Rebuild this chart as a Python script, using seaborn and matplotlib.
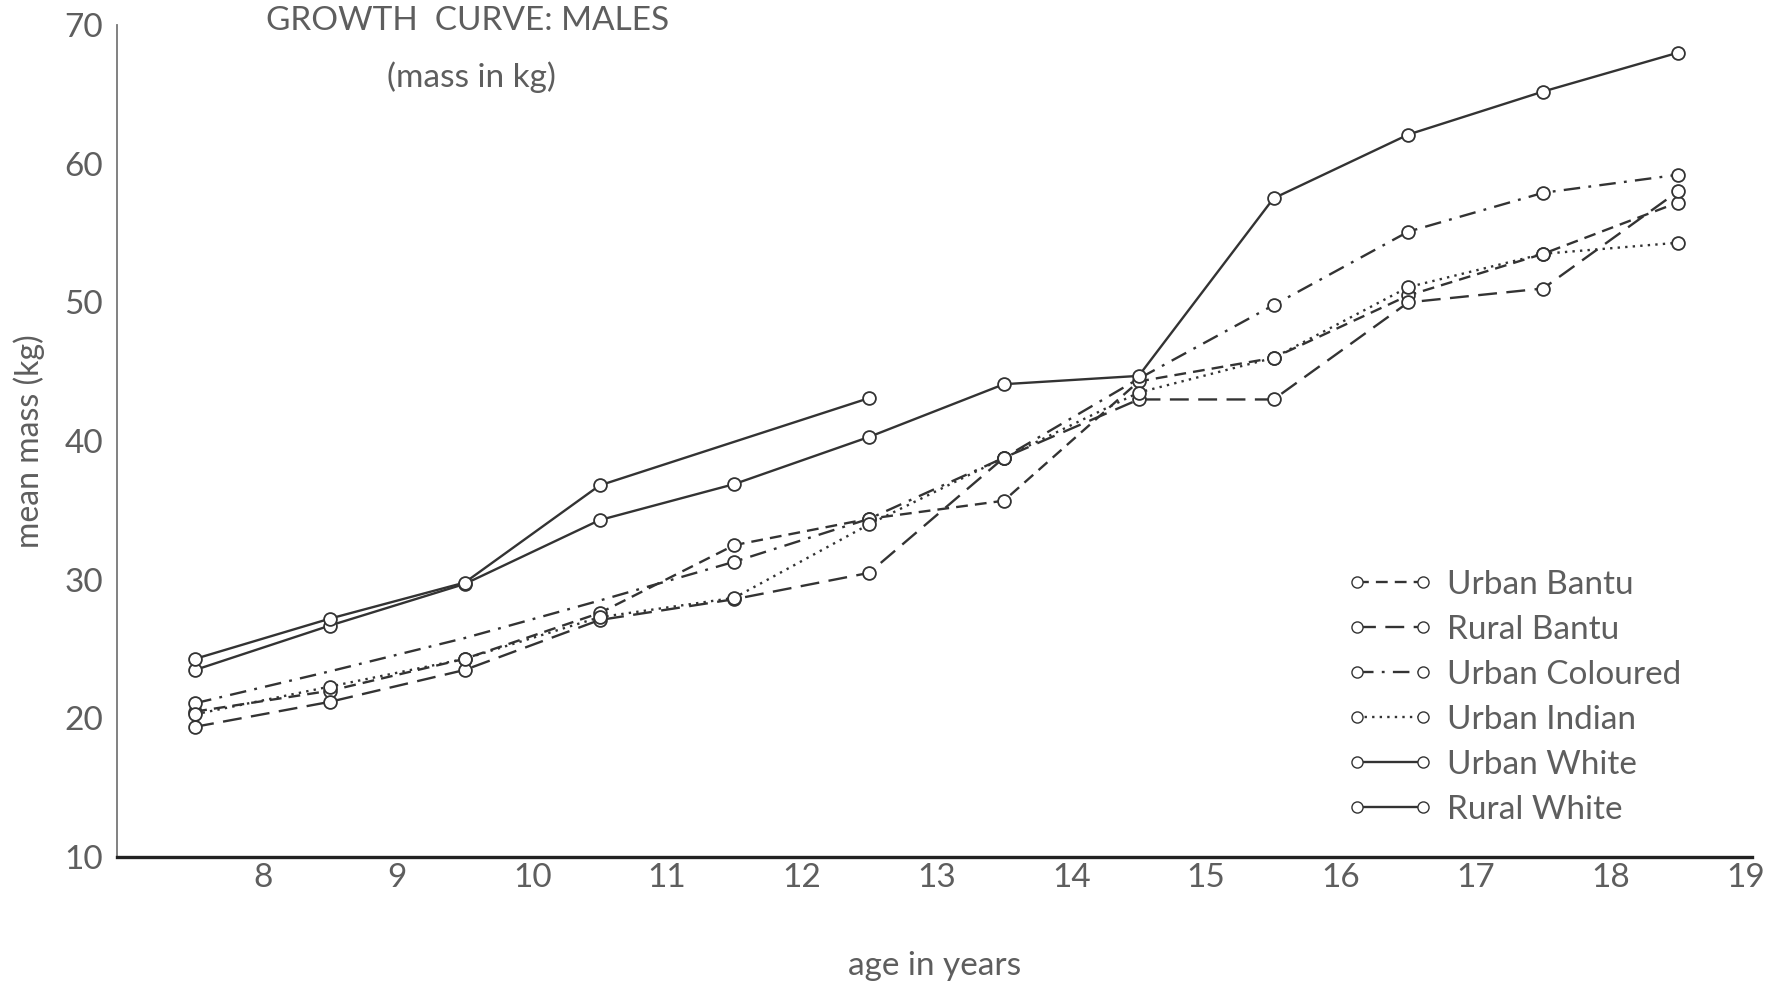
import pandas as pd
import seaborn as sns
import matplotlib.pyplot as plt
from matplotlib.lines import Line2D

# ages (mid-year) and mean mass in kg
ages = [7.5, 8.5, 9.5, 10.5, 11.5, 12.5, 13.5, 14.5, 15.5, 16.5, 17.5, 18.5]
urban_bantu = [20.5, 22.0, 24.3, 27.6, 32.5, 34.4, 35.7, 44.3, 46.0, 50.5, 53.5, 57.2]
rural_bantu = [19.4, 21.2, 23.5, 27.1, 28.6, 30.5, 38.8, 43.0, 43.0, 50.0, 51.0, 58.0]
urban_coloured = [21.1, 23.4, 25.8, 28.5, 31.3, 34.4, 38.8, 44.5, 49.8, 55.1, 57.9, 59.2]
urban_indian = [20.3, 22.3, 24.3, 27.3, 28.7, 34.0, 38.8, 43.5, 46.0, 51.1, 53.5, 54.3]
urban_white = [23.5, 26.7, 29.7, 34.3, 36.9, 40.3, 44.1, 44.7, 57.5, 62.1, 65.2, 68.0]
rural_white_ages = [7.5, 8.5, 9.5, 10.5, 12.5]
rural_white = [24.3, 27.2, 29.8, 36.8, 43.1]

# which points carry a circle in the original drawing
coloured_marked = [1, 0, 0, 0, 1, 1, 1, 0, 1, 1, 1, 1]

names = ["Urban Bantu", "Rural Bantu", "Urban Coloured", "Urban Indian", "Urban White", "Rural White"]
xticks = [8, 9, 10, 11, 12, 13, 14, 15, 16, 17, 18, 19]
yticks = [10, 20, 30, 40, 50, 60, 70]

sns.set_style("white")
plt.rcParams["font.family"] = ["Lato", "DejaVu Sans"]

ink = "#333333"
txt = "#5e5e5e"
styles = {
    "Urban Bantu": (0, (5, 3)),
    "Rural Bantu": (0, (8, 4)),
    "Urban Coloured": (0, (7, 3.5, 1.2, 3.5)),
    "Urban Indian": (0, (1, 2.2)),
    "Urban White": "-",
    "Rural White": "-",
}

series = {
    "Urban Bantu": (ages, urban_bantu, [1] * 12),
    "Rural Bantu": (ages, rural_bantu, [1] * 12),
    "Urban Coloured": (ages, urban_coloured, coloured_marked),
    "Urban Indian": (ages, urban_indian, [1] * 12),
    "Urban White": (ages, urban_white, [1] * 12),
    "Rural White": (rural_white_ages, rural_white, [1] * 5),
}

fig = plt.figure(figsize=(17.78, 9.83), dpi=100)
ax = fig.add_axes([0.0658, 0.128, 0.9196, 0.8466])

for name in names:
    x, y, m = series[name]
    df = pd.DataFrame({"age": x, "mass": y, "mark": m})
    sns.lineplot(data=df, x="age", y="mass", ax=ax, color=ink, linewidth=1.7,
                 linestyle=styles[name], zorder=2)
    pts = df[df["mark"] == 1]
    sns.scatterplot(data=pts, x="age", y="mass", ax=ax, marker="o", s=85,
                    facecolor="white", edgecolor=ink, linewidth=1.3, zorder=3)

ax.set_xlim(6.92, 19.05)
ax.set_ylim(10, 70)
ax.set_xticks(xticks)
ax.set_xticklabels([str(t) for t in xticks])
ax.set_yticks(yticks)
ax.set_yticklabels([str(t) for t in yticks])
ax.tick_params(axis="x", length=0, pad=4, labelsize=24, labelcolor=txt)
ax.tick_params(axis="y", length=8, width=1.2, color="#777777", pad=2, labelsize=24, labelcolor=txt)

sns.despine(ax=ax)
ax.spines["left"].set_color("#777777")
ax.spines["left"].set_linewidth(1.3)
ax.spines["bottom"].set_color("#222222")
ax.spines["bottom"].set_linewidth(2.4)

ax.set_xlabel("age in years", fontsize=24, color=txt, labelpad=42)
ax.set_ylabel("mean mass (kg)", fontsize=23, color=txt, labelpad=14)

fig.text(0.263, 0.979, "GROWTH  CURVE: MALES", fontsize=24, color=txt,
         ha="center", va="center")
fig.text(0.265, 0.921, "(mass in kg)", fontsize=24, color=txt,
         ha="center", va="center")

handles = [Line2D([0], [0], color=ink, linewidth=1.7, linestyle=styles[n], marker="o",
                  markersize=8, markerfacecolor="white", markeredgecolor=ink) for n in names]
leg = fig.legend(handles, names, loc="upper left", bbox_to_anchor=(0.748, 0.437), frameon=False,
                 numpoints=2, handlelength=2.6, handletextpad=0.4, labelspacing=0.45,
                 fontsize=24, borderpad=0)
for t in leg.get_texts():
    t.set_color(txt)

fig.savefig("out.png", dpi=100, facecolor="white")
